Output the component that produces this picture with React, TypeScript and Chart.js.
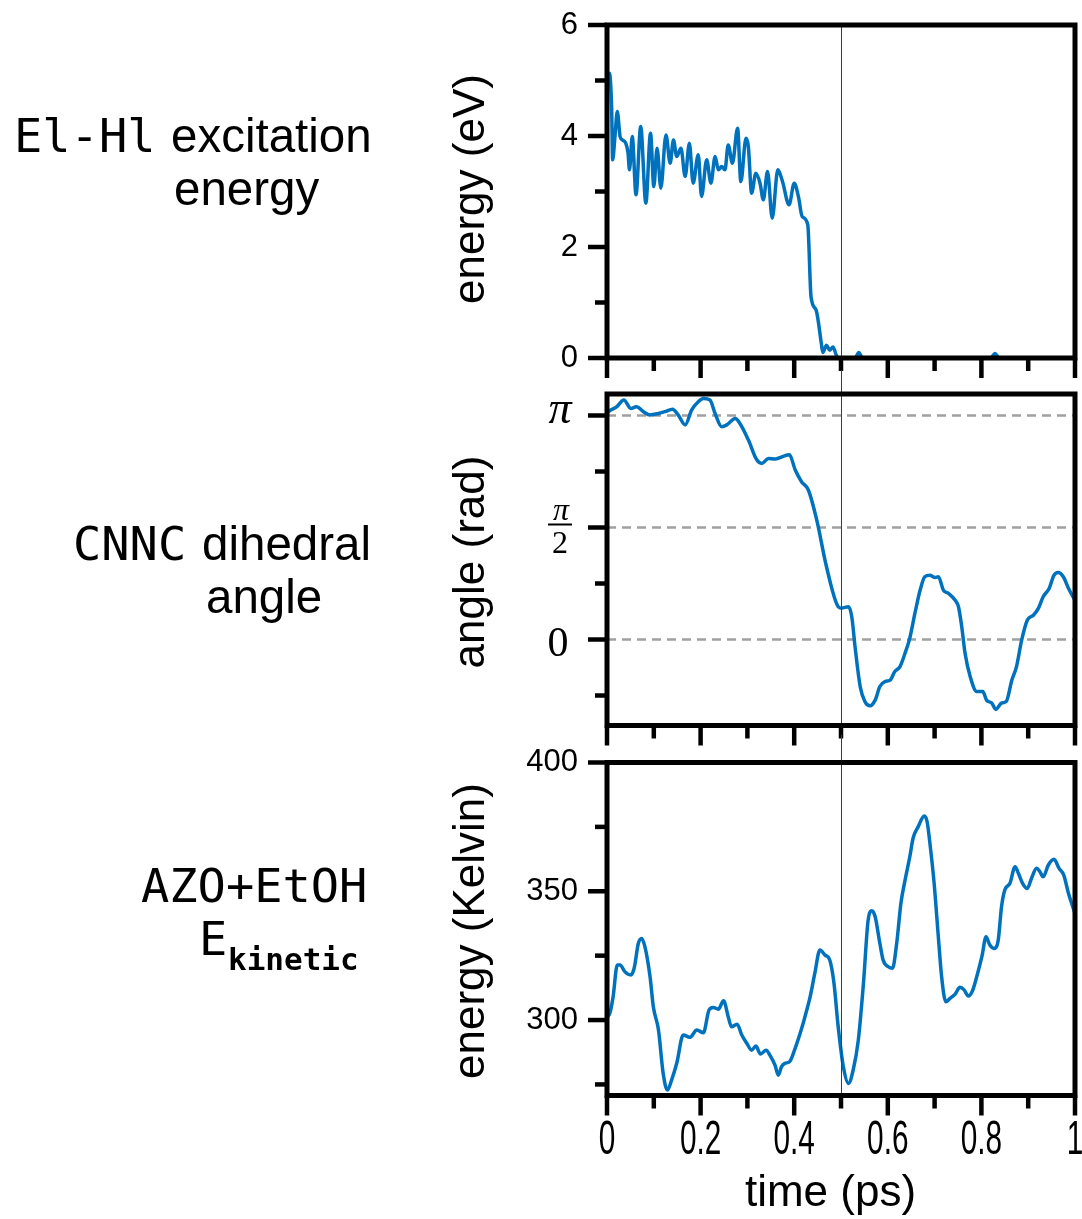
import React, { useEffect, useRef } from 'react';
import { Chart, registerables } from 'chart.js';

Chart.register(...registerables);

const PI = Math.PI;
const SANS = '"Liberation Sans", Arial, sans-serif';
const MONO = '"DejaVu Sans Mono", monospace';
const SERIF = '"Liberation Serif", serif';
const BLUE = '#0072BD';

// ---- Top panel: El-Hl excitation energy (eV) ----
const energyTime = [0, 0.005, 0.010, 0.012, 0.017, 0.022, 0.028, 0.033, 0.040, 0.045,
  0.048, 0.054, 0.062, 0.072, 0.083, 0.093, 0.100, 0.107, 0.115, 0.126,
  0.135, 0.142, 0.149, 0.158, 0.167, 0.176, 0.184, 0.195, 0.202, 0.213,
  0.222, 0.231, 0.238, 0.245, 0.252, 0.259, 0.268, 0.279, 0.286, 0.297,
  0.302, 0.309, 0.318, 0.327, 0.334, 0.343, 0.353, 0.365, 0.375, 0.389,
  0.400, 0.409, 0.417, 0.429, 0.436, 0.447, 0.458, 0.461, 0.469, 0.476,
  0.483, 0.490, 0.495, 0.530, 0.538, 0.546, 0.820, 0.829, 0.838, 1.0];
const energyValue = [4.9, 5.13, 4.47, 3.57, 3.99, 4.44, 3.99, 3.93, 3.87, 3.69,
  3.39, 3.99, 2.94, 4.17, 2.79, 4.05, 3.09, 3.78, 3.06, 4.02,
  3.51, 3.93, 3.63, 3.78, 3.27, 3.87, 3.15, 3.66, 2.91, 3.57,
  3.15, 3.63, 3.39, 3.45, 3.39, 3.84, 3.51, 4.14, 3.18, 3.96,
  3.81, 2.97, 3.33, 3.15, 2.85, 3.36, 2.52, 3.39, 3.18, 2.76,
  3.15, 2.91, 2.55, 2.40, 1.10, 0.86, 0.26, 0.10, 0.23, 0.14,
  0.20, 0.05, 0.0, 0.0, 0.1, 0.0, 0.0, 0.08, 0.0, 0.0];

// ---- Middle panel: CNNC dihedral angle (rad) ----
const angleTime = [0, 0.003, 0.021, 0.036, 0.051, 0.063, 0.078, 0.092, 0.110, 0.124,
  0.140, 0.152, 0.167, 0.181, 0.195, 0.206, 0.220, 0.231, 0.245, 0.256,
  0.274, 0.284, 0.302, 0.320, 0.331, 0.345, 0.359, 0.373, 0.390, 0.402,
  0.416, 0.430, 0.448, 0.469, 0.494, 0.501, 0.516, 0.523, 0.530, 0.541,
  0.551, 0.562, 0.573, 0.583, 0.594, 0.605, 0.615, 0.626, 0.637, 0.647,
  0.658, 0.669, 0.679, 0.690, 0.701, 0.708, 0.719, 0.729, 0.744, 0.751,
  0.758, 0.765, 0.776, 0.790, 0.803, 0.811, 0.822, 0.831, 0.843, 0.853,
  0.865, 0.875, 0.886, 0.898, 0.911, 0.922, 0.932, 0.945, 0.955, 0.964,
  0.975, 0.986, 1.0];
const angleValue = [3.17, 3.195, 3.265, 3.36, 3.24, 3.265, 3.195, 3.15, 3.17, 3.195,
  3.23, 3.15, 3.01, 3.22, 3.335, 3.38, 3.36, 3.17, 2.985, 3.01,
  3.10, 3.03, 2.80, 2.52, 2.47, 2.54, 2.53, 2.56, 2.59, 2.38,
  2.21, 2.10, 1.68, 1.02, 0.46, 0.44, 0.46, 0.32, -0.10, -0.66,
  -0.87, -0.93, -0.85, -0.66, -0.59, -0.57, -0.45, -0.38, -0.19, 0.02,
  0.37, 0.69, 0.88, 0.90, 0.87, 0.88, 0.69, 0.65, 0.55, 0.46,
  0.18, -0.19, -0.52, -0.73, -0.73, -0.85, -0.89, -0.98, -0.89, -0.87,
  -0.57, -0.38, -0.01, 0.27, 0.34, 0.44, 0.60, 0.72, 0.90, 0.94,
  0.88, 0.72, 0.55];

// ---- Bottom panel: AZO+EtOH kinetic energy (Kelvin) ----
const kineticTime = [0, 0.006, 0.013, 0.022, 0.028, 0.038, 0.051, 0.058, 0.067, 0.074,
  0.081, 0.092, 0.099, 0.110, 0.120, 0.129, 0.138, 0.149, 0.163, 0.177,
  0.192, 0.206, 0.218, 0.227, 0.238, 0.249, 0.259, 0.266, 0.278, 0.288,
  0.299, 0.309, 0.318, 0.328, 0.340, 0.348, 0.359, 0.366, 0.373, 0.380,
  0.390, 0.402, 0.416, 0.423, 0.434, 0.444, 0.455, 0.466, 0.476, 0.485,
  0.494, 0.505, 0.516, 0.526, 0.537, 0.548, 0.558, 0.566, 0.573, 0.583,
  0.590, 0.601, 0.610, 0.619, 0.628, 0.637, 0.647, 0.654, 0.665, 0.678,
  0.684, 0.690, 0.699, 0.708, 0.715, 0.724, 0.733, 0.744, 0.754, 0.763,
  0.772, 0.781, 0.790, 0.801, 0.810, 0.818, 0.827, 0.836, 0.843, 0.850,
  0.861, 0.872, 0.879, 0.888, 0.898, 0.907, 0.918, 0.925, 0.932, 0.943,
  0.955, 0.966, 0.976, 0.986, 1.0];
const kineticValue = [301, 302.6, 309.0, 321.4, 321.4, 318.8, 317.5, 320.1, 329.8, 331.7,
  328.5, 316.8, 305.2, 296.1, 279.3, 272.8, 276.7, 283.2, 294.2, 293.3,
  296.1, 295.1, 303.9, 304.9, 304.2, 307.5, 301.3, 297.4, 298.4, 294.2,
  290.9, 288.3, 289.9, 286.8, 288.3, 286.4, 282.5, 278.6, 281.9, 283.2,
  283.8, 289.0, 296.8, 301.3, 309.0, 318.1, 327.2, 325.2, 323.3, 314.3,
  297.4, 281.9, 275.4, 280.6, 292.2, 314.3, 338.8, 342.4, 340.1, 329.8,
  323.3, 320.7, 320.1, 329.8, 345.3, 354.4, 363.4, 370.6, 375.1, 379.2,
  377.0, 368.6, 353.1, 332.3, 316.8, 307.1, 308.4, 310.1, 312.7, 311.7,
  309.3, 311.4, 316.8, 324.6, 332.3, 329.1, 327.8, 331.1, 344.0, 350.5,
  353.1, 359.5, 357.0, 353.1, 351.1, 355.0, 358.9, 357.6, 355.6, 360.2,
  362.4, 358.9, 356.3, 349.2, 341.4];

// ---- Ticks ----
const timeTicks = [0, 0.1, 0.2, 0.3, 0.4, 0.5, 0.6, 0.7, 0.8, 0.9, 1];
const timeTickLabels = ['0', '', '0.2', '', '0.4', '', '0.6', '', '0.8', '', '1'];
const energyTicks = [0, 1, 2, 3, 4, 5, 6];
const energyTickLabels = ['0', '', '2', '', '4', '', '6'];
const angleTicks = [-PI / 4, 0, PI / 4, PI / 2, (3 * PI) / 4, PI];
const angleTickLabels = ['', '0', '', 'π/2', '', 'π'];
const angleRefLines = [0, PI / 2, PI];
const kelvinTicks = [275, 300, 325, 350, 375, 400];
const kelvinTickLabels = ['', '300', '', '350', '', '400'];
const markerTime = 0.5;

const PAGE_W = 1082;
const AREA_LEFT = 607;
const AREA_RIGHT = 1075;

const framePlugin: any = {
  id: 'frame',
  afterDatasetsDraw(chart: any, _a: any, o: any) {
    const ctx = chart.ctx;
    const xs = chart.scales.x;
    const px = Math.round(xs.getPixelForValue(o.marker)) + 0.5;
    const y0 = o.lineFromTop ? chart.chartArea.top : 0;
    const y1 = o.lineToBottom ? chart.chartArea.bottom : chart.height;
    ctx.save();
    ctx.strokeStyle = '#cc0000';
    ctx.lineWidth = 1;
    ctx.beginPath();
    ctx.moveTo(px, y0);
    ctx.lineTo(px, y1);
    ctx.stroke();
    ctx.restore();
  },
  afterDraw(chart: any, _a: any, o: any) {
    const ctx = chart.ctx;
    const xs = chart.scales.x;
    const ys = chart.scales.y;
    const { left, right, top, bottom } = chart.chartArea;
    ctx.save();
    ctx.strokeStyle = '#000';
    ctx.fillStyle = '#000';
    ctx.lineWidth = 4.5;
    ctx.lineCap = 'butt';
    o.yTicks.forEach((v: number, i: number) => {
      const py = ys.getPixelForValue(v);
      const len = o.yLabels[i] ? 19 : 12;
      ctx.beginPath();
      ctx.moveTo(left, py);
      ctx.lineTo(left - len, py);
      ctx.stroke();
    });
    timeTicks.forEach((v, i) => {
      const px = xs.getPixelForValue(v);
      const len = timeTickLabels[i] ? 20 : 13;
      ctx.beginPath();
      ctx.moveTo(px, bottom);
      ctx.lineTo(px, bottom + len);
      ctx.stroke();
    });
    ctx.lineWidth = 5;
    ctx.strokeRect(left, top, right - left, bottom - top);

    // y-axis title
    ctx.save();
    ctx.font = `44px ${SANS}`;
    ctx.textAlign = 'center';
    ctx.textBaseline = 'middle';
    ctx.translate(472, o.yTitleY - o.offset);
    ctx.rotate(-PI / 2);
    ctx.fillText(o.yTitle, 0, 0);
    ctx.restore();

    if (o.angleLabels) {
      ctx.textAlign = 'center';
      ctx.textBaseline = 'alphabetic';
      o.yTicks.forEach((v: number, i: number) => {
        const lab = o.yLabels[i];
        const py = ys.getPixelForValue(v);
        if (lab === 'π') {
          ctx.font = `italic 46px ${SERIF}`;
          ctx.fillText('π', 560, py + 8);
        } else if (lab === '0') {
          ctx.font = `42px ${SERIF}`;
          ctx.fillText('0', 558, py + 16);
        } else if (lab === 'π/2') {
          ctx.font = `italic 32px ${SERIF}`;
          ctx.fillText('π', 561, py - 7);
          ctx.fillRect(548, py - 4, 24, 2);
          ctx.font = `32px ${SERIF}`;
          ctx.fillText('2', 560, py + 26);
        }
      });
    }

    if (o.xLabels) {
      timeTicks.forEach((v, i) => {
        const lab = timeTickLabels[i];
        if (!lab) return;
        ctx.save();
        ctx.translate(xs.getPixelForValue(v), 1141 - o.offset);
        ctx.scale(0.62, 1);
        ctx.font = `48px ${SANS}`;
        ctx.textAlign = 'center';
        ctx.textBaseline = 'middle';
        ctx.fillText(lab, 0, 0);
        ctx.restore();
      });
      ctx.font = `44px ${SANS}`;
      ctx.textAlign = 'center';
      ctx.textBaseline = 'alphabetic';
      ctx.fillText('time (ps)', 830.5, 1206 - o.offset);
    }
    ctx.restore();
  },
};

type Panel = {
  top: number;
  height: number;
  areaTop: number;
  areaBottom: number;
  yMin: number;
  yMax: number;
  yTicks: number[];
  yLabels: string[];
  chartLabels: boolean;
  times: number[];
  values: number[];
  refLines: number[];
  yTitle: string;
  yTitleY: number;
  lineFromTop: boolean;
  lineToBottom: boolean;
  xLabels: boolean;
  angleLabels: boolean;
};

const panels: Panel[] = [
  {
    top: 0, height: 390, areaTop: 25, areaBottom: 358,
    yMin: 0, yMax: 6, yTicks: energyTicks, yLabels: energyTickLabels, chartLabels: true,
    times: energyTime, values: energyValue, refLines: [],
    yTitle: 'energy (eV)', yTitleY: 189,
    lineFromTop: true, lineToBottom: false, xLabels: false, angleLabels: false,
  },
  {
    top: 370, height: 390, areaTop: 394, areaBottom: 725.5,
    yMin: -1.206, yMax: 3.443, yTicks: angleTicks, yLabels: angleTickLabels, chartLabels: false,
    times: angleTime, values: angleValue, refLines: angleRefLines,
    yTitle: 'angle (rad)', yTitleY: 562,
    lineFromTop: false, lineToBottom: false, xLabels: false, angleLabels: true,
  },
  {
    top: 735, height: 484, areaTop: 762.5, areaBottom: 1095.5,
    yMin: 270.7, yMax: 400, yTicks: kelvinTicks, yLabels: kelvinTickLabels, chartLabels: true,
    times: kineticTime, values: kineticValue, refLines: [],
    yTitle: 'energy (Kelvin)', yTitleY: 931,
    lineFromTop: false, lineToBottom: true, xLabels: true, angleLabels: false,
  },
];

function makeConfig(p: Panel): any {
  const datasets: any[] = [
    {
      data: p.times.map((t, i) => ({ x: t, y: p.values[i] })),
      borderColor: BLUE,
      borderWidth: 3.5,
      pointRadius: 0,
      cubicInterpolationMode: 'monotone',
      fill: false,
      order: 0,
    },
    ...p.refLines.map((v) => ({
      data: [{ x: 0, y: v }, { x: 1, y: v }],
      borderColor: '#a0a0a0',
      borderWidth: 2.5,
      borderDash: [9, 6],
      pointRadius: 0,
      fill: false,
      order: 1,
    })),
  ];
  return {
    type: 'line',
    data: { datasets },
    options: {
      responsive: false,
      animation: false,
      events: [],
      layout: {
        autoPadding: false,
        padding: { left: 0, right: PAGE_W - AREA_RIGHT, top: p.areaTop - p.top, bottom: 0 },
      },
      plugins: {
        legend: { display: false },
        tooltip: { enabled: false },
        frame: {
          offset: p.top,
          marker: markerTime,
          lineFromTop: p.lineFromTop,
          lineToBottom: p.lineToBottom,
          yTicks: p.yTicks,
          yLabels: p.yLabels,
          yTitle: p.yTitle,
          yTitleY: p.yTitleY,
          xLabels: p.xLabels,
          angleLabels: p.angleLabels,
        },
      },
      scales: {
        x: {
          type: 'linear',
          min: 0,
          max: 1,
          afterBuildTicks: (s: any) => { s.ticks = timeTicks.map((v) => ({ value: v })); },
          afterFit: (s: any) => { s.height = p.top + p.height - p.areaBottom; },
          grid: { display: false, drawTicks: false },
          border: { display: false },
          ticks: { display: false },
        },
        y: {
          type: 'linear',
          min: p.yMin,
          max: p.yMax,
          afterBuildTicks: (s: any) => { s.ticks = p.yTicks.map((v) => ({ value: v })); },
          afterFit: (s: any) => { s.width = AREA_LEFT; },
          grid: { display: false, drawTicks: true, tickLength: 29 },
          border: { display: false },
          ticks: {
            display: p.chartLabels,
            padding: 0,
            color: '#000',
            font: { family: SANS, size: 31 },
            autoSkip: false,
            callback: (_v: any, i: number) => p.yLabels[i],
          },
        },
      },
    },
    plugins: [framePlugin],
  };
}

function Label(props: { text: string; left: number; baseline: number; size: number; family: string; weight?: number }) {
  const { text, left, baseline, size, family, weight } = props;
  return (
    <span
      style={{
        position: 'absolute',
        left,
        top: baseline - 0.846 * size,
        fontSize: size,
        lineHeight: `${size}px`,
        fontFamily: family,
        fontWeight: weight || 400,
        whiteSpace: 'nowrap',
        color: '#000',
      }}
    >
      {text}
    </span>
  );
}

export default function App() {
  const r0 = useRef<HTMLCanvasElement>(null);
  const r1 = useRef<HTMLCanvasElement>(null);
  const r2 = useRef<HTMLCanvasElement>(null);

  useEffect(() => {
    const refs = [r0, r1, r2];
    const charts = panels.map((p, i) => new Chart(refs[i].current as HTMLCanvasElement, makeConfig(p)));
    return () => charts.forEach((c) => c.destroy());
  }, []);

  const refs = [r0, r1, r2];
  return (
    <div style={{ position: 'absolute', left: 0, top: 0, width: PAGE_W, height: 1219, background: '#fff', overflow: 'hidden' }}>
      {panels.map((p, i) => (
        <canvas
          key={i}
          ref={refs[i]}
          width={PAGE_W}
          height={p.height}
          style={{ position: 'absolute', left: 0, top: p.top, width: PAGE_W, height: p.height }}
        />
      ))}
      <Label text="El-Hl" left={14} baseline={152} size={47} family={MONO} />
      <Label text="excitation" left={171} baseline={152} size={47.5} family={SANS} />
      <Label text="energy" left={174} baseline={205} size={47.5} family={SANS} />
      <Label text="CNNC" left={73} baseline={560} size={47} family={MONO} />
      <Label text="dihedral" left={202} baseline={560} size={47.5} family={SANS} />
      <Label text="angle" left={206} baseline={613} size={47.5} family={SANS} />
      <Label text="AZO+EtOH" left={141} baseline={902} size={47} family={MONO} />
      <Label text="E" left={199} baseline={955} size={47} family={MONO} />
      <Label text="kinetic" left={228} baseline={970} size={31} family={MONO} weight={700} />
    </div>
  );
}
